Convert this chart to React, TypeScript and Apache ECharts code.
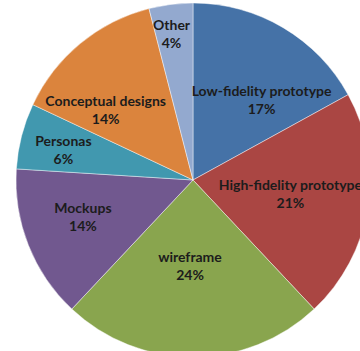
import React, { useEffect, useRef } from "react";
import * as echarts from "echarts";

// Share of each design deliverable, in percent, clockwise from 12 o'clock
const categories = [
  "Low-fidelity prototype",
  "High-fidelity prototype",
  "wireframe",
  "Mockups",
  "Personas",
  "Conceptual designs",
  "Other",
];
const shares = [17, 21, 24, 14, 6, 14, 4];

const sliceColors = [
  "#4572A7",
  "#AA4643",
  "#89A54E",
  "#71588F",
  "#4198AF",
  "#DB843D",
  "#93A9CF",
];

// Nudges applied to each label from the slice's mid-radius anchor
const labelNudges: [number, number][] = [
  [22, -2],
  [7, -1],
  [-3, -6],
  [-25, 3],
  [-41, -8],
  [-29, 0],
  [-10, -56],
];

export default function App() {
  const ref = useRef<HTMLDivElement>(null);

  useEffect(() => {
    if (!ref.current) return;
    const chart = echarts.init(ref.current, undefined, { renderer: "svg" });
    chart.setOption({
      animation: false,
      backgroundColor: "#ffffff",
      series: [
        {
          type: "pie",
          center: [193, 180],
          radius: 177,
          startAngle: 90,
          clockwise: true,
          avoidLabelOverlap: false,
          itemStyle: {
            borderColor: "rgba(255,255,255,0.55)",
            borderWidth: 0.8,
          },
          label: {
            show: true,
            position: "inside",
            formatter: (p: any) => `${p.name}\n${p.value}%`,
            fontFamily: "Lato",
            fontWeight: "bold",
            fontSize: 14,
            lineHeight: 18,
            color: "#1c1c1c",
            align: "center",
          },
          labelLine: { show: false },
          labelLayout: (params: any) => {
            const n = labelNudges[params.dataIndex] || [0, 0];
            return { dx: n[0], dy: n[1] };
          },
          emphasis: { disabled: true },
          data: categories.map((name, i) => ({
            name,
            value: shares[i],
            itemStyle: { color: sliceColors[i] },
          })),
        },
      ],
    });
    return () => chart.dispose();
  }, []);

  return (
    <div
      ref={ref}
      style={{ position: "fixed", left: 0, top: 0, width: 360, height: 351 }}
    />
  );
}
